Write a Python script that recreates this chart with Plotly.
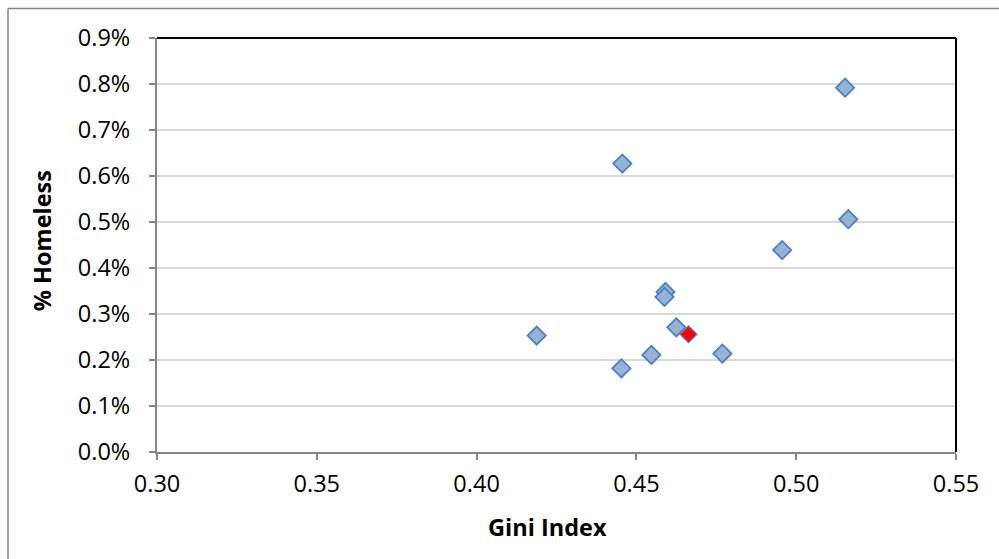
import plotly.graph_objects as go

gini = [0.5153, 0.4456, 0.5163, 0.4956, 0.4591, 0.4588, 0.4625, 0.4188, 0.4547, 0.4769, 0.4453]
homeless = [0.00792, 0.00627, 0.00506, 0.00439, 0.00348, 0.00337, 0.00271, 0.00253, 0.00211, 0.00214, 0.00182]
hl_gini = [0.4663]
hl_homeless = [0.00256]

x_ticks = [0.30, 0.35, 0.40, 0.45, 0.50, 0.55]
y_ticks = [0, 0.001, 0.002, 0.003, 0.004, 0.005, 0.006, 0.007, 0.008, 0.009]

FONT = "Open Sans"
FS = 23.5

fig = go.Figure()
fig.add_trace(go.Scatter(
    x=gini, y=homeless, mode="markers",
    marker=dict(symbol="diamond", size=14, color="#95B3D7",
                line=dict(color="#4F81BD", width=1.8)),
    showlegend=False, hoverinfo="x+y"))
fig.add_trace(go.Scatter(
    x=hl_gini, y=hl_homeless, mode="markers",
    marker=dict(symbol="diamond", size=13, color="#FF0000",
                line=dict(color="#4F81BD", width=1.2)),
    showlegend=False, hoverinfo="x+y"))

L, R, T, B = 157, 43, 37.5, 107
W, H = 999, 559
pw, ph = W - L - R, H - T - B

fig.update_layout(
    width=W, height=H,
    margin=dict(l=L, r=R, t=T, b=B),
    paper_bgcolor="white", plot_bgcolor="white",
    font=dict(family=FONT, size=FS, color="black"),
    xaxis=dict(range=[0.30, 0.55], tickvals=x_ticks, tickformat=".2f",
               showgrid=False, zeroline=False,
               showline=True, linecolor="#868686", linewidth=2,
               ticks="outside", ticklen=6, tickcolor="#868686", tickwidth=1.5,
               ticklabelstandoff=4,
               tickfont=dict(family=FONT, size=FS)),
    yaxis=dict(range=[0, 0.009], tickvals=y_ticks, tickformat=".1%",
               showgrid=True, gridcolor="#D9D9D9", gridwidth=1.5,
               zeroline=False,
               showline=True, linecolor="#868686", linewidth=2,
               ticks="outside", ticklen=6, tickcolor="#868686", tickwidth=1.5,
               ticklabelstandoff=14,
               tickfont=dict(family=FONT, size=FS)),
    annotations=[
        dict(text="<b>Gini Index</b>", xref="paper", yref="paper",
             x=(547 - L) / pw, y=(H - B - 527) / ph, xanchor="center", yanchor="middle",
             showarrow=False, font=dict(family=FONT, size=FS)),
        dict(text="<b>% Homeless</b>", xref="paper", yref="paper",
             x=(42 - L) / pw, y=(H - B - 241) / ph, xanchor="center", yanchor="middle",
             textangle=-90, showarrow=False, font=dict(family=FONT, size=FS)),
    ],
    shapes=[
        dict(type="line", xref="paper", yref="paper", x0=0, x1=1, y0=1, y1=1,
             line=dict(color="black", width=2)),
        dict(type="line", xref="paper", yref="paper", x0=1, x1=1, y0=0, y1=1,
             line=dict(color="black", width=2)),
        dict(type="line", xref="paper", yref="paper",
             x0=(8 - L) / pw, x1=(1010 - L) / pw,
             y0=1 + (T - 8) / ph, y1=1 + (T - 8) / ph,
             line=dict(color="#868686", width=1.5)),
        dict(type="line", xref="paper", yref="paper",
             x0=(8 - L) / pw, x1=(8 - L) / pw,
             y0=1 + (T - 8) / ph, y1=-(H + 10 - T - ph) / ph,
             line=dict(color="#868686", width=1.5)),
    ],
)

fig.write_html("out.html")
